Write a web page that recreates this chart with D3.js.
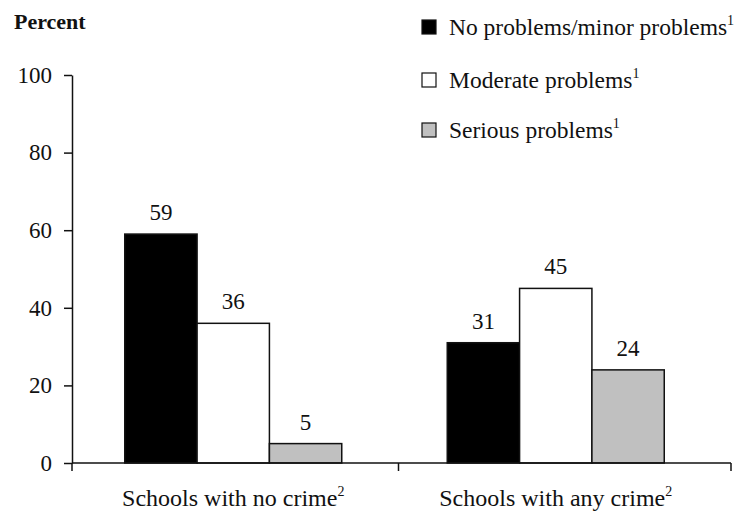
<!DOCTYPE html>
<html><head><meta charset="utf-8">
<script src="https://cdn.jsdelivr.net/npm/d3@7/dist/d3.min.js"></script>
<style>
html,body{margin:0;padding:0;background:#fff;}
text{font-family:"Liberation Serif","Times New Roman",serif;fill:#111;}
</style></head>
<body>
<svg id="c" width="744" height="514"></svg>
<script>
const categories = ["Schools with no crime", "Schools with any crime"];
const categorySup = ["2", "2"];
const seriesNames = ["No problems/minor problems", "Moderate problems", "Serious problems"];
const seriesColors = ["#000000", "#ffffff", "#c0c0c0"];
const noProblems = [59, 31];
const moderate = [36, 45];
const serious = [5, 24];
const yTicks = [0, 20, 40, 60, 80, 100];

const FONT = '"Liberation Serif", "Times New Roman", serif';
const seriesValues = [noProblems, moderate, serious];
const svg = d3.select("#c");

const y = d3.scaleLinear().domain([0, 100]).range([463, 75]);
const xAxisScale = d3.scaleBand().domain(categories).range([72, 725]);
const x0 = d3.scaleBand().domain(categories).range([72, 717]);
const x1 = d3.scaleBand().domain(seriesNames).range([-108.5, 108.5]);

// Y axis
const yAxis = svg.append("g").attr("transform", "translate(72,0)")
  .call(d3.axisLeft(y).tickValues(yTicks).tickSize(8).tickPadding(12).tickSizeOuter(0));
yAxis.attr("font-family", null).attr("font-size", null);
yAxis.select(".domain").attr("stroke", "#111").attr("stroke-width", 1.5);
yAxis.selectAll(".tick line").attr("stroke", "#111").attr("stroke-width", 1.5);
yAxis.selectAll(".tick text").style("font-size", "23px").style("font-family", FONT).attr("fill", "#111");

// bars
categories.forEach((c, ci) => {
  const g = svg.append("g").attr("transform", `translate(${x0(c) + x0.bandwidth() / 2},0)`);
  seriesNames.forEach((s, si) => {
    const v = seriesValues[si][ci];
    g.append("rect")
      .attr("x", x1(s)).attr("width", x1.bandwidth())
      .attr("y", y(v)).attr("height", y(0) - y(v))
      .attr("fill", seriesColors[si]).attr("stroke", "#111").attr("stroke-width", 1.5);
    g.append("text")
      .attr("x", x1(s) + x1.bandwidth() / 2).attr("y", y(v) - 14)
      .attr("text-anchor", "middle").style("font-family", FONT).style("font-size", "23px").text(v);
  });
});

// X axis
const xAxis = svg.append("g").attr("transform", `translate(0,${y(0)})`);
xAxis.append("line").attr("x1", 72).attr("x2", 731)
  .attr("stroke", "#111").attr("stroke-width", 1.5);
const boundaries = [xAxisScale(categories[0]), ...categories.map(c => xAxisScale(c) + xAxisScale.bandwidth())];
boundaries[boundaries.length - 1] = 731;
xAxis.selectAll("line.tk").data(boundaries).enter().append("line").attr("class", "tk")
  .attr("x1", d => d).attr("x2", d => d).attr("y1", 0).attr("y2", 8)
  .attr("stroke", "#111").attr("stroke-width", 1.5);

categories.forEach((c, ci) => {
  const t = svg.append("text").attr("x", x0(c) + x0.bandwidth() / 2).attr("y", 506)
    .attr("text-anchor", "middle").style("font-family", FONT).style("font-size", "24px");
  t.append("tspan").text(c);
  t.append("tspan").attr("dy", -10).style("font-size", "14px").text(categorySup[ci]);
});

// Y title
svg.append("text").attr("x", 14).attr("y", 29).style("font-family", FONT)
  .style("font-size", "22px").style("font-weight", "bold").text("Percent");

// legend
const legendY = [20, 73, 123];
seriesNames.forEach((s, i) => {
  svg.append("rect").attr("x", 422).attr("y", legendY[i]).attr("width", 14).attr("height", 14)
    .attr("fill", seriesColors[i]).attr("stroke", "#111").attr("stroke-width", 1.2);
  const t = svg.append("text").attr("x", 449).attr("y", legendY[i] + 15)
    .style("font-family", FONT).style("font-size", "23.5px");
  t.append("tspan").text(s);
  t.append("tspan").attr("dy", -10).style("font-size", "14px").text("1");
});
</script>
</body></html>
